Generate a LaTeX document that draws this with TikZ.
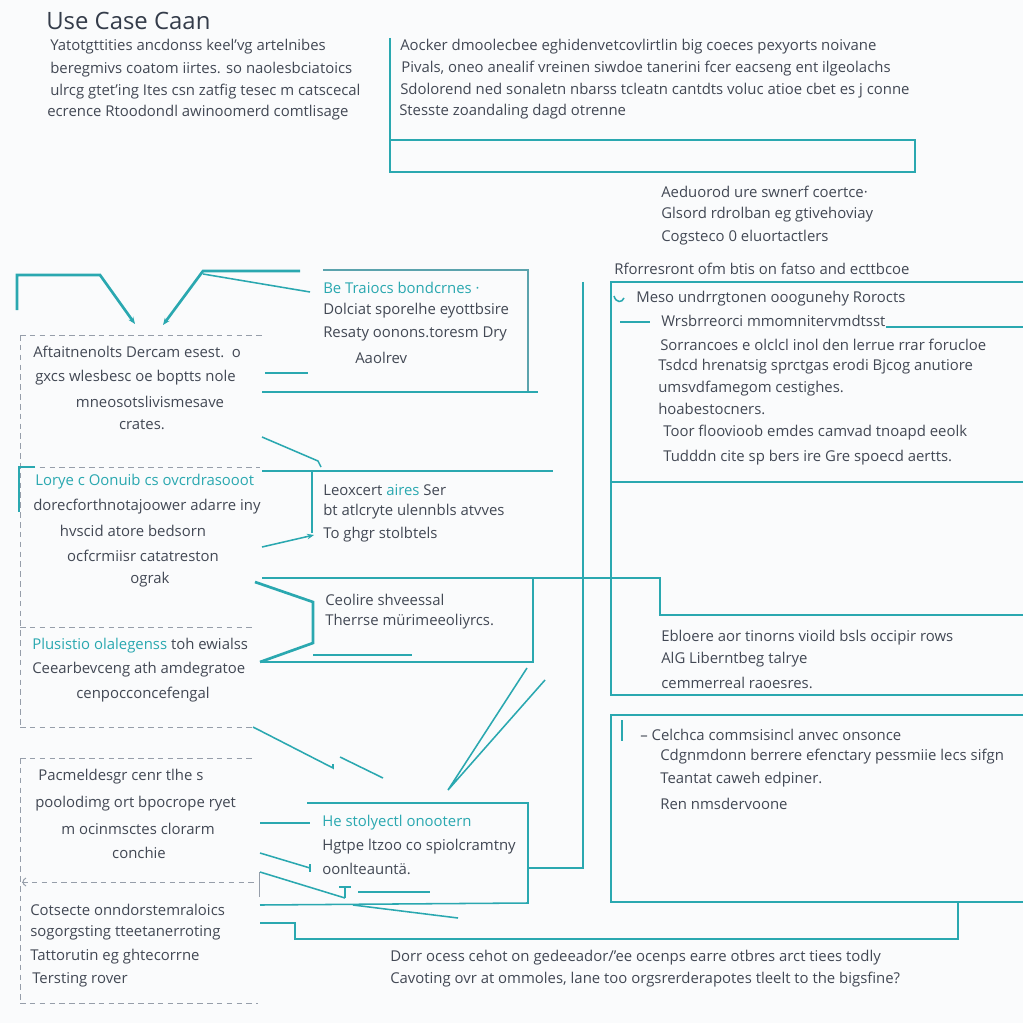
\documentclass[tikz,border=0pt]{standalone}
\usepackage{fontspec}
\setmainfont{Open Sans}
\usetikzlibrary{arrows.meta}
\definecolor{teal1}{RGB}{42,168,176}
\definecolor{txt}{RGB}{66,72,84}
\definecolor{dash1}{RGB}{150,158,170}
\definecolor{ttl}{RGB}{52,60,74}
\definecolor{bg}{RGB}{250,251,252}
\begin{document}
\begin{tikzpicture}[x=0.025cm,y=-0.025cm,
  body/.style={font=\fontsize{10.6}{12}\selectfont, text=txt, inner sep=0pt, anchor=west},
  bodyc/.style={body, anchor=center},
  hl/.style={body, text=teal1},
  tl/.style={teal1, line width=1.9pt},
  tlthin/.style={teal1, line width=1.1pt},
  dsh/.style={dash1, line width=0.7pt, dash pattern=on 4pt off 3pt},
  arr/.style={-{Stealth[length=5pt,width=4pt]}}]
\useasboundingbox (0,0) rectangle (1023,1023);
\fill[bg] (0,0) rectangle (1023,1023);

% title and intro
\node[anchor=west, inner sep=0pt, text=ttl, font=\fontsize{17}{20}\selectfont] (title) at (46,21) {Use Case Caan};
\node[body] (p1) at (50,47) {Yatotgttities ancdonss keel'vg artelnibes};
\node[body] (p2) at (50,70) {beregmivs coatom iirtes. so naolesbciatoics};
\node[body] (p3) at (50,92) {ulrcg gtet'ing Ites csn zatfig tesec m catscecal};
\node[body] (p4) at (47,113) {ecrence Rtoodondl awinoomerd comtlisage};

% top right block
\draw[tl] (390,38) -- (390,172);
\draw[tl] (390,140) rectangle (915,172);
\node[body] (q1) at (400,47) {Aocker dmoolecbee eghidenvetcovlirtlin big coeces pexyorts noivane};
\node[body] (q2) at (401,69) {Pivals, oneo anealif vreinen siwdoe tanerini fcer eacseng ent ilgeolachs};
\node[body] (q3) at (400,91) {Sdolorend ned sonaletn nbarss tcleatn cantdts voluc atioe cbet es j conne};
\node[body] (q4) at (399,112) {Stesste zoandaling dagd otrenne};

\node[body] (r1) at (661,192) {Aeduorod ure swnerf coertce·};
\node[body] (r2) at (661,215) {Glsord rdrolban eg gtivehoviay};
\node[body] (r3) at (661,238) {Cogsteco 0 eluortactlers};
\node[body] (r4) at (614,269) {Rforresront ofm btis on fatso and ecttbcoe};

% big right box
\coordinate (rE) at (1023,0);
\draw[tl] (1023,282) -- (611,282) -- (611,695) -- (1023,695);
\draw[tl] (611,482) -- (1023,482);
\draw[tlthin] (614,296) .. controls (616,303) and (622,303) .. (624,298);
\node[body] (s1) at (636,299) {Meso undrrgtonen ooogunehy Rorocts};
\draw[tlthin] (620,322) -- (650,322);
\node[body] (s2) at (661,321) {Wrsbrreorci mmomnitervmdtsst};
\draw[tlthin] (s2.south east) -- (s2.south east -| rE);
\node[body] (s3) at (660,345) {Sorrancoes e olclcl inol den lerrue rrar forucloe};
\node[body] (s4) at (658,367) {Tsdcd hrenatsig sprctgas erodi Bjcog anutiore};
\node[body] (s5) at (658,389) {umsvdfamegom cestighes.};
\node[body] (s6) at (658,409) {hoabestocners.};
\node[body] (s7) at (663,433) {Toor floovioob emdes camvad tnoapd eeolk};
\node[body] (s8) at (663,458) {Tudddn cite sp bers ire Gre spoecd aertts.};

\draw[tl] (262,578) -- (660,578) -- (660,615) -- (1023,615);
\node[body] (t1) at (661,638) {Ebloere aor tinorns vioild bsls occipir rows};
\node[body] (t2) at (661,660) {AlG Liberntbeg talrye};
\node[body] (t3) at (661,683) {cemmerreal raoesres.};

% lower right box
\draw[tl] (1023,715) -- (611,715) -- (611,902) -- (1023,902);
\draw[tlthin] (622,720) -- (622,741);
\node[body] (u1) at (640,735) {– Celchca commsisincl anvec onsonce};
\node[body] (u2) at (660,757) {Cdgnmdonn berrere efenctary pessmiie lecs sifgn};
\node[body] (u3) at (660,780) {Teantat caweh edpiner.};
\node[body] (u4) at (660,804) {Ren nmsdervoone};

\draw[tl] (260,923) -- (295,923) -- (295,939) -- (958,939) -- (958,902);
\node[body] (v1) at (390,958) {Dorr ocess cehot on gedeeador/'ee ocenps earre otbres arct tiees todly};
\node[body] (v2) at (390,980) {Cavoting ovr at ommoles, lane too orgsrerderapotes tleelt to the bigsfine?};

\draw[tl] (583,282) -- (583,868) -- (528,868);

% Be Traiocs box
\draw[tlthin, teal1!55!dash1] (323,270) -- (528,270) -- (528,392);
\draw[tl] (262,392) -- (538,392);
\draw[tl] (265,373) -- (308,373);
\node[hl] (b1) at (323,288) {Be Traiocs bondcrnes ·};
\node[body] (b2) at (323,311) {Dolciat sporelhe eyottbsire};
\node[body] (b3) at (323,334) {Resaty oonons.toresm Dry};
\node[body] (b4) at (355,358) {Aaolrev};

% top-left connectors
\draw[tl, arr] (17,310) -- (17,275) -- (100,275) -- (135,324);
\draw[tl, arr] (300,271) -- (203,271) -- (163,325);
\draw[tlthin] (203,274) -- (310,292);

% left dashed column
\draw[dsh] (20,335) -- (265,335);
\draw[dsh] (20,335) -- (20,727);
\draw[dsh] (20,467) -- (260,467);
\draw[dsh] (20,627) -- (255,627);
\draw[dsh] (20,727) -- (255,727);
\draw[dsh] (20,758) -- (256,758);
\draw[dsh] (20,758) -- (20,1003);
\draw[dsh] (22,882) -- (258,882);
\draw[dsh] (20,1003) -- (258,1003);
\draw[dash1, line width=0.7pt] (26,878) .. controls (22,880) and (22,884) .. (26,886);
\draw[dash1, line width=0.7pt] (259,872) -- (259,897);
\draw[tl] (35,467) -- (19,467) -- (19,512);

\node[body] (a1) at (33,352) {Aftaitnenolts Dercam esest. \,o};
\node[body] (a2) at (35,378) {gxcs wlesbesc oe boptts nole};
\node[bodyc] (a3) at (150,402) {mneosotslivismesave};
\node[bodyc] (a4) at (142,425) {crates.};

\node[hl] (c1) at (35,482) {Lorye c Oonuib cs ovcrdrasooot};
\node[body] (c2) at (33,507) {dorecforthnotajoower adarre iny};
\node[bodyc] (c3) at (133,531) {hvscid atore bedsorn};
\node[bodyc] (c4) at (143,556) {ocfcrmiisr catatreston};
\node[bodyc] (c5) at (150,580) {ograk};

\node[body] (d1) at (32,646) {{\color{teal1}Plusistio olalegenss} toh ewialss};
\node[body] (d2) at (32,670) {Ceearbevceng ath amdegratoe};
\node[bodyc] (d3) at (143,695) {cenpocconcefengal};

\node[body] (e1) at (38,777) {Pacmeldesgr cenr tlhe s};
\node[body] (e2) at (35,804) {poolodimg ort bpocrope ryet};
\node[bodyc] (e3) at (138,829) {m ocinmsctes clorarm};
\node[bodyc] (e4) at (139,853) {conchie};

\node[body] (f1) at (30,910) {Cotsecte onndorstemraloics};
\node[body] (f2) at (30,933) {sogorgsting tteetanerroting};
\node[body] (f3) at (30,957) {Tattorutin eg ghtecorrne};
\node[body] (f4) at (32,980) {Tersting rover};

% middle connectors
\draw[tlthin] (262,437) -- (318,461) -- (321,467);
\draw[tlthin] (262,471) -- (553,471);
\draw[tlthin] (312,471) -- (312,533);
\draw[tlthin, arr] (262,547) -- (314,535);
\node[body] (g1) at (323,490) {Leoxcert {\color{teal1}aires} Ser};
\node[body] (g2) at (323,512) {bt atlcryte ulennbls atvves};
\node[body] (g3) at (323,535) {To ghgr stolbtels};

\draw[tl] (533,578) -- (533,662) -- (260,662);
\draw[tl] (255,582) -- (313,602) -- (313,643) -- (260,662);
\draw[tlthin] (313,655) -- (412,655);
\node[body] (h1) at (325,600) {Ceolire shveessal};
\node[body] (h2) at (325,622) {Therrse mürimeeoliyrcs.};

\draw[tlthin] (527,668) -- (448,790) -- (545,680);
\draw[tlthin] (253,727) -- (333,768) -- (333,764);
\draw[tlthin] (340,757) -- (383,778);

% He box
\draw[tlthin] (307,803) -- (528,803) -- (528,903) -- (260,905);
\draw[tlthin] (260,823) -- (310,823);
\draw[tlthin] (260,853) -- (310,868);
\draw[tlthin] (310,864) -- (310,872);
\draw[tlthin] (260,872) -- (345,898);
\draw[tlthin] (339,887) -- (351,887);
\draw[tlthin] (345,887) -- (345,898);
\draw[tlthin] (358,892) -- (430,892);
\draw[tlthin] (353,905) -- (458,918);
\node[hl] (i1) at (322,823) {He stolyectl onootern};
\node[body] (i2) at (322,847) {Hgtpe ltzoo co spiolcramtny};
\node[body] (i3) at (322,869) {oonlteauntä.};
\end{tikzpicture}
\end{document}
